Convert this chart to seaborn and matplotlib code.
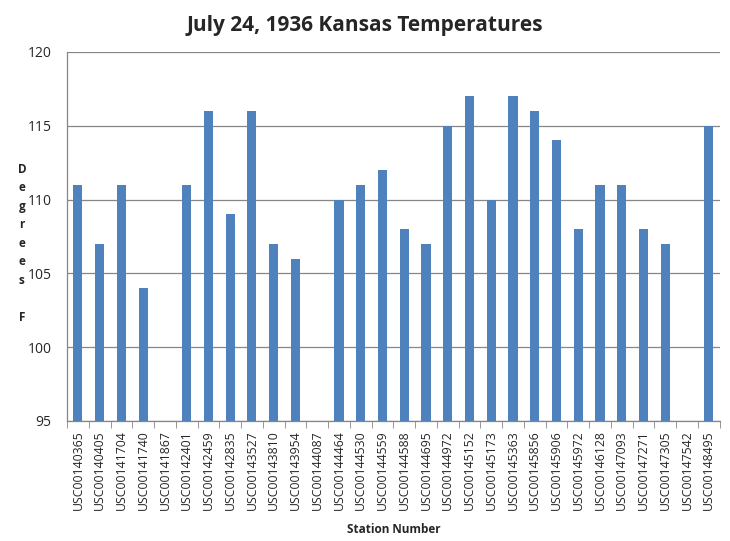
import numpy as np
import pandas as pd
import matplotlib
matplotlib.use("Agg")
import matplotlib.pyplot as plt
import seaborn as sns
from matplotlib.ticker import FixedLocator

# station ids and max temps (nan = no bar shown)
stations = ["USC00140365", "USC00140405", "USC00141704", "USC00141740", "USC00141867",
            "USC00142401", "USC00142459", "USC00142835", "USC00143527", "USC00143810",
            "USC00143954", "USC00144087", "USC00144464", "USC00144530", "USC00144559",
            "USC00144588", "USC00144695", "USC00144972", "USC00145152", "USC00145173",
            "USC00145363", "USC00145856", "USC00145906", "USC00145972", "USC00146128",
            "USC00147093", "USC00147271", "USC00147305", "USC00147542", "USC00148495"]
temps = [111, 107, 111, 104, np.nan, 111, 116, 109, 116, 107,
         106, np.nan, 110, 111, 112, 108, 107, 115, 117, 110,
         117, 116, 114, 108, 111, 111, 108, 107, np.nan, 115]

df = pd.DataFrame({"station": stations, "temp": temps})

sns.set_style("white")
plt.rcParams['font.family'] = ['Open Sans', 'DejaVu Sans']

fig = plt.figure(figsize=(7.3, 5.41), dpi=100)
ax = fig.add_axes([0.0918, 0.222, 0.894, 0.682])

sns.barplot(data=df, x="station", y="temp", color="#4F81BD", width=0.42,
            saturation=1, linewidth=0, ax=ax, zorder=3)

ax.set_ylim(95, 120)
ax.set_yticks([95, 100, 105, 110, 115, 120])
ax.set_xlim(-0.5, len(stations) - 0.5)
ax.yaxis.grid(True, color="#868686", linewidth=0.9, zorder=0)
ax.set_axisbelow(True)

for s in ["top", "right"]:
    ax.spines[s].set_visible(False)
for s in ["left", "bottom"]:
    ax.spines[s].set_color("#868686")
    ax.spines[s].set_linewidth(0.9)

ax.tick_params(axis="x", which="major", length=0, labelsize=8.8, rotation=90, pad=7)
ax.xaxis.set_minor_locator(FixedLocator(np.arange(-0.5, len(stations), 1)))
ax.tick_params(axis="x", which="minor", length=5, color="#868686", direction="out", bottom=True)
ax.tick_params(axis="y", length=5, color="#868686", direction="out", labelsize=10, pad=6)

ax.set_xlabel("Station Number", fontsize=8.5, fontweight="bold", labelpad=9)
ax.set_ylabel("")
fig.text(0.03, 0.55, "D\ne\ng\nr\ne\ne\ns\n\nF", ha="center", va="center",
         fontsize=8.5, fontweight="bold", linespacing=1.55)
fig.suptitle("July 24, 1936 Kansas Temperatures", fontsize=15, fontweight="bold", y=0.972)

fig.savefig("out.png", dpi=100)
